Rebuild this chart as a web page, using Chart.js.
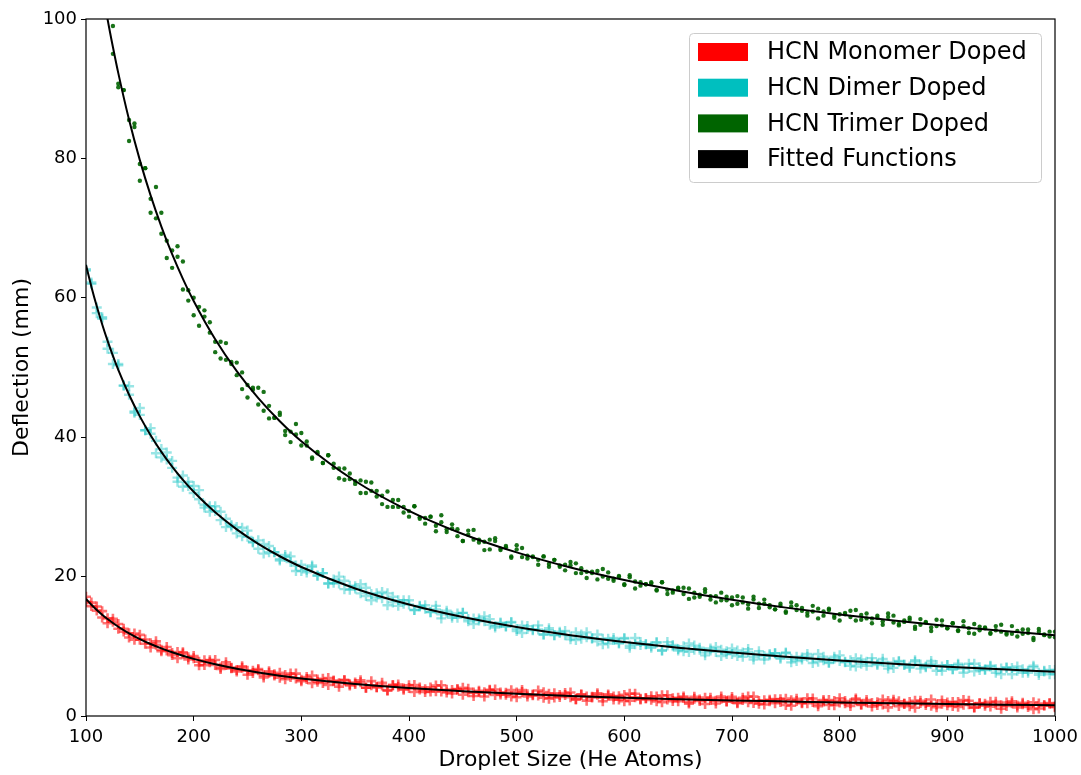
<!DOCTYPE html>
<html>
<head>
<meta charset="utf-8">
<title>Deflection vs droplet size</title>
<script src="https://cdn.jsdelivr.net/npm/chart.js@4.4.0/dist/chart.umd.min.js"></script>
<style>
  html, body { margin: 0; padding: 0; background: #fff; }
  canvas { display: block; }
</style>
</head>
<body>
<canvas id="deflection" width="1081" height="775"></canvas>
<script>
// droplet sizes (He atoms) for the measured points
const sizes = [
  100,105,110,115,120,125,130,135,140,145,
  150,155,160,165,170,175,180,185,190,195,
  200,205,210,215,220,225,230,235,240,245,
  250,255,260,265,270,275,280,285,290,295,
  300,305,310,315,320,325,330,335,340,345,
  350,355,360,365,370,375,380,385,390,395,
  400,405,410,415,420,425,430,435,440,445,
  450,455,460,465,470,475,480,485,490,495,
  500,505,510,515,520,525,530,535,540,545,
  550,555,560,565,570,575,580,585,590,595,
  600,605,610,615,620,625,630,635,640,645,
  650,655,660,665,670,675,680,685,690,695,
  700,705,710,715,720,725,730,735,740,745,
  750,755,760,765,770,775,780,785,790,795,
  800,805,810,815,820,825,830,835,840,845,
  850,855,860,865,870,875,880,885,890,895,
  900,905,910,915,920,925,930,935,940,945,
  950,955,960,965,970,975,980,985,990,995,
  1000
];

// deflection (mm), two shots per droplet size
const monomerA = [
  17.10,15.77,15.72,14.14,14.01,13.94,12.51,12.51,11.26,11.83,
  10.94,10.97,9.83,10.71,9.50,9.41,8.74,9.19,9.15,8.12,
  8.30,7.29,8.00,8.01,7.33,6.76,7.70,6.94,6.59,6.94,
  5.91,6.48,6.75,5.83,6.21,5.80,6.19,5.28,5.58,6.08,
  5.19,5.60,4.71,5.23,4.74,5.46,5.08,4.21,5.14,4.57,
  4.60,4.83,4.06,5.00,4.14,4.38,3.72,4.36,4.51,3.76,
  4.00,4.45,3.80,3.45,4.10,3.56,4.41,3.37,3.73,3.78,
  3.04,3.90,3.36,3.43,2.79,3.65,3.81,3.08,3.34,2.81,
  3.38,3.74,2.81,3.08,2.95,3.42,2.49,3.26,2.73,3.01,
  3.38,2.45,3.03,2.20,2.77,3.05,2.62,3.10,2.38,2.85,
  2.13,3.21,2.69,2.36,2.54,2.82,2.10,2.98,2.36,2.14,
  2.62,2.80,1.78,2.46,2.15,2.63,2.31,1.79,2.78,2.16,
  2.44,1.93,2.61,1.99,2.78,1.76,2.25,2.13,1.82,2.40,
  1.59,2.27,2.46,1.94,1.83,2.52,1.40,2.09,2.28,1.56,
  1.95,2.14,1.83,2.51,1.60,2.29,1.38,1.97,1.66,2.14,
  2.33,1.42,1.81,2.00,1.19,2.18,1.87,1.46,1.65,2.24,
  1.53,2.02,1.31,2.30,1.69,1.18,1.87,1.76,1.35,2.04,
  1.53,1.43,2.12,1.21,1.90,1.59,0.98,1.78,1.47,1.86,
  1.35
];
const monomerB = [
  16.40,16.27,15.12,15.04,13.31,13.54,13.21,12.11,11.86,10.93,
  11.64,10.37,10.43,10.21,9.30,9.91,9.04,8.29,8.95,8.42,
  8.60,7.79,7.30,7.71,8.03,6.96,7.30,6.84,6.39,7.14,
  6.51,6.18,6.55,5.53,6.41,6.00,5.49,5.88,6.08,5.38,
  4.99,5.30,5.81,4.93,5.34,4.46,4.98,4.71,5.14,4.37,
  4.80,5.13,4.06,4.40,4.14,4.78,3.62,4.46,4.21,3.96,
  4.40,3.45,4.10,3.85,3.50,4.36,3.51,3.77,3.23,3.88,
  4.04,3.40,2.86,3.63,3.39,3.75,3.01,3.38,3.04,3.71,
  2.68,3.44,3.11,2.98,3.65,2.62,3.19,2.66,3.03,3.31,
  2.68,2.35,3.13,2.80,2.67,3.25,2.12,2.90,2.78,2.35,
  3.03,2.21,3.19,2.46,2.54,2.32,2.80,1.98,2.96,2.54,
  2.12,2.60,1.98,2.76,2.35,1.73,2.61,2.19,2.48,2.06,
  2.74,1.83,2.31,2.79,1.88,2.16,1.65,2.33,2.42,2.00,
  2.49,1.47,2.16,1.84,2.53,2.02,1.70,2.29,1.58,2.16,
  2.55,1.84,1.43,2.31,1.70,1.99,1.88,1.57,2.36,1.24,
  2.03,2.12,1.71,1.40,2.19,1.88,1.57,2.36,1.25,1.74,
  1.93,1.42,2.01,1.60,2.19,1.28,1.77,1.46,2.05,1.64,
  1.03,1.93,1.82,1.51,1.70,1.29,1.98,1.08,1.57,1.76,
  1.25
];
const dimerA = [
  63.9,62.2,58.6,57.2,52.7,52.1,50.5,47.4,46.1,43.5,
  44.2,41.0,40.5,39.5,37.1,37.8,35.6,33.6,34.5,33.0,
  33.0,31.1,29.9,30.1,30.1,28.1,28.3,27.2,26.2,27.0,
  25.7,24.9,25.2,23.3,24.4,23.5,22.5,22.8,22.9,21.6,
  20.8,21.0,21.6,20.1,20.5,19.0,19.6,19.0,19.4,18.1,
  18.6,18.9,17.2,17.5,17.0,17.8,15.9,17.1,16.6,16.1,
  16.6,15.2,15.8,15.4,14.9,15.8,14.6,14.8,14.1,14.7,
  14.8,13.9,13.2,14.0,13.6,13.9,12.9,13.3,12.8,13.5,
  12.2,13.0,12.5,12.3,13.0,11.7,12.3,11.6,11.9,12.2,
  11.4,10.9,11.7,11.3,11.1,11.7,10.3,11.1,10.9,10.4,
  11.1,10.1,11.2,10.2,10.3,10.0,10.5,9.4,10.6,10.0,
  9.4,10.0,9.2,10.1,9.5,8.7,9.7,9.2,9.5,8.9,
  9.7,8.6,9.1,9.6,8.5,8.8,8.1,8.9,9.0,8.4,
  9.0,7.7,8.5,8.1,8.9,8.2,7.8,8.5,7.6,8.2,
  8.7,7.8,7.2,8.3,7.5,7.8,7.7,7.3,8.2,6.8,
  7.7,7.8,7.3,6.9,7.8,7.4,7.0,7.9,6.5,7.1,
  7.3,6.7,7.3,6.8,7.5,6.4,7.0,6.6,7.2,6.7,
  6.0,7.0,6.9,6.5,6.7,6.2,7.0,5.9,6.4,6.6,
  6.0
];
const dimerB = [
  64.1,62.0,57.8,57.0,53.7,50.5,50.3,47.4,47.3,43.7,
  43.2,41.0,41.3,37.7,38.3,36.8,36.6,34.2,32.9,33.6,
  32.0,32.4,30.3,29.3,29.4,29.3,27.1,27.4,27.1,25.8,
  26.6,25.0,24.0,24.7,23.5,23.5,22.3,23.1,22.1,20.8,
  21.7,20.6,21.4,20.2,20.5,19.0,19.1,20.0,18.2,18.7,
  18.3,17.6,18.4,16.6,17.6,16.9,17.6,16.3,15.8,16.6,
  16.0,15.2,15.7,15.9,14.9,15.3,14.0,15.1,14.4,14.1,
  14.8,13.6,14.0,13.7,14.3,13.1,12.7,13.4,12.9,13.4,
  12.5,11.9,12.9,12.4,12.4,11.7,12.6,11.6,12.1,11.6,
  11.0,12.0,11.1,12.0,11.2,10.7,11.1,10.4,11.2,10.5,
  11.2,9.8,10.3,10.6,10.3,9.8,10.6,9.4,10.1,10.2,
  9.6,9.3,10.4,9.5,9.8,9.1,9.4,9.9,8.6,9.3,
  8.9,9.4,8.5,9.2,8.1,9.3,8.6,8.7,9.0,8.2,
  9.1,8.2,7.9,8.4,8.5,7.6,8.9,8.0,7.7,8.5,
  7.9,7.7,8.0,7.1,8.1,7.2,8.3,7.5,7.8,7.2,
  6.9,7.9,7.4,7.1,8.0,6.8,7.1,7.5,7.3,6.5,
  7.3,6.7,7.5,6.2,6.9,7.5,6.6,6.7,7.1,6.2,
  6.8,6.9,6.0,7.1,6.2,6.5,7.2,6.2,6.5,6.0,
  6.6
];
const trimerA = [
  null,null,null,null,103.0,95.0,90.2,89.8,85.5,85.0,
  76.8,78.6,74.2,71.4,72.2,65.7,66.8,67.4,61.2,61.1,
  57.5,58.7,58.2,55.0,52.2,53.7,51.1,50.8,50.7,46.9,
  47.5,47.1,44.7,46.5,42.7,42.8,43.2,40.9,39.3,40.4,
  40.6,38.8,36.9,37.9,36.3,37.4,35.6,35.5,33.9,34.8,
  33.3,32.0,33.6,32.3,32.3,30.4,32.2,30.0,30.0,30.0,
  28.6,30.1,28.3,28.4,28.6,26.5,27.8,26.8,27.5,25.8,
  25.1,26.0,26.7,24.9,25.0,23.9,25.1,24.0,24.4,22.7,
  24.5,22.8,23.0,22.9,21.7,22.9,21.8,22.4,21.6,20.9,
  21.6,21.9,20.5,20.7,20.7,19.6,21.1,19.7,19.7,20.1,
  18.9,19.9,18.3,19.2,18.9,19.0,18.1,19.2,17.5,18.0,
  18.4,17.5,18.3,17.0,17.4,18.2,16.7,17.2,16.6,17.1,
  15.9,17.2,16.3,15.4,16.7,16.1,16.7,15.6,15.3,15.8,
  15.0,16.3,15.2,15.5,14.4,15.0,15.4,14.4,15.4,14.4,
  13.7,14.6,15.1,13.7,14.5,14.0,14.0,14.4,13.1,14.7,
  13.4,13.2,13.7,14.1,12.8,13.1,13.5,12.2,13.8,13.0,
  12.6,13.3,12.3,12.9,11.9,13.2,12.3,12.7,11.8,12.3,
  13.1,11.7,11.8,12.2,11.8,12.4,11.2,12.5,11.7,11.4,
  12.1
];
const trimerB = [
  null,null,null,null,100.5,99.0,90.7,89.8,82.5,84.5,
  79.2,78.6,72.2,75.9,69.2,68.2,64.3,65.9,65.2,59.6,
  60.0,56.0,57.3,56.5,53.7,51.3,53.5,50.5,48.9,49.3,
  45.7,46.8,47.1,43.8,44.5,42.8,43.5,40.3,40.8,41.9,
  38.8,39.4,37.1,37.7,36.3,37.4,36.2,34.1,35.5,34.0,
  33.7,33.8,32.0,33.5,31.5,31.6,30.0,31.0,31.0,29.2,
  29.4,30.1,28.5,27.6,28.6,27.3,28.8,26.4,26.9,26.8,
  25.1,26.6,25.3,25.3,23.8,25.3,25.5,23.8,24.2,22.9,
  23.9,24.1,22.6,22.8,22.4,22.9,21.4,22.4,21.4,21.7,
  22.1,20.5,21.2,19.8,20.5,20.8,20.0,20.6,19.4,20.0,
  18.8,20.2,19.3,18.7,18.9,19.2,18.0,19.2,18.1,17.7,
  18.3,18.4,16.8,17.7,17.1,17.8,17.2,16.3,17.7,16.6,
  17.0,16.1,17.0,16.0,17.1,15.5,16.1,15.9,15.3,16.1,
  14.8,15.7,15.9,15.1,14.8,15.8,14.0,15.0,15.2,14.1,
  14.6,14.8,14.2,15.2,13.8,14.7,13.3,14.1,13.6,14.2,
  14.4,13.0,13.5,13.8,12.5,13.9,13.4,12.7,12.9,13.7,
  12.6,13.3,12.2,13.6,12.6,11.8,12.8,12.6,11.9,12.9,
  12.1,11.9,12.9,11.4,12.4,11.9,10.9,12.1,11.6,12.1,
  11.3
];

// fitted curves, sampled
const fitSizes = [100,105,110,115,120,125,130,140,150,160,170,180,190,200,220,240,260,280,300,
                  350,400,450,500,550,600,650,700,750,800,850,900,950,1000];
const monomerFit = [16.80,15.97,15.22,14.54,13.91,13.34,12.81,11.86,11.04,10.33,9.70,9.14,8.65,8.20,7.43,6.79,6.25,5.79,5.39,
                    4.60,4.00,3.54,3.18,2.88,2.63,2.42,2.24,2.09,1.95,1.83,1.73,1.63,1.55];
const dimerFit = [64.70,61.60,58.78,56.21,53.85,51.67,49.67,46.09,42.99,40.29,37.90,35.78,33.88,32.17,29.23,26.78,24.70,22.92,21.38,
                  18.30,16.00,14.20,12.77,11.60,10.63,9.80,9.10,8.49,7.95,7.48,7.06,6.69,6.35];
const trimerFit = [120.4,114.6,109.3,104.5,100.0,95.98,92.23,85.54,79.75,74.69,70.22,66.26,62.72,59.54,54.04,49.47,45.61,42.30,39.43,
                   33.72,29.44,26.12,23.47,21.30,19.50,17.98,16.67,15.55,14.56,13.69,12.92,12.22,11.60];

const seriesNames = ['HCN Monomer Doped', 'HCN Dimer Doped', 'HCN Trimer Doped', 'Fitted Functions'];
const seriesColors = ['#ff0000', '#00bfbf', '#006400', '#000000'];

function shots(...runs) {
  const out = [];
  runs.forEach(ys => ys.forEach((y, i) => { if (y !== null) out.push({ x: sizes[i], y }); }));
  return out;
}
function curve(ys) {
  return ys.map((y, i) => ({ x: fitSizes[i], y }));
}

const fitStyle = {
  showLine: true,
  borderColor: '#000',
  borderWidth: 2,
  pointRadius: 0,
  cubicInterpolationMode: 'monotone',
  order: 0
};

// axes box (all four sides)
const frame = {
  id: 'frame',
  afterDatasetsDraw(chart) {
    const { ctx, chartArea: a } = chart;
    ctx.save();
    ctx.strokeStyle = '#000';
    ctx.lineWidth = 1.2;
    ctx.strokeRect(a.left, a.top, a.right - a.left, a.bottom - a.top);
    ctx.restore();
  }
};

// legend box in the upper right corner
const boxLegend = {
  id: 'boxLegend',
  afterDraw(chart) {
    const ctx = chart.ctx;
    const x0 = 689, y0 = 33, w = 352, h = 149;
    ctx.save();
    ctx.fillStyle = 'rgba(255,255,255,0.85)';
    ctx.strokeStyle = '#cccccc';
    ctx.lineWidth = 1;
    ctx.beginPath();
    ctx.roundRect(x0 + 0.5, y0 + 0.5, w, h, 4);
    ctx.fill();
    ctx.stroke();
    ctx.font = '24px "DejaVu Sans"';
    ctx.textBaseline = 'middle';
    seriesNames.forEach((name, i) => {
      const cy = 52 + i * 35.7;
      ctx.fillStyle = seriesColors[i];
      ctx.fillRect(698, cy - 9, 50, 18);
      ctx.fillStyle = '#000';
      ctx.fillText(name, 767, cy + 1);
    });
    ctx.restore();
  }
};

Chart.defaults.font.family = '"DejaVu Sans", sans-serif';
Chart.defaults.color = '#000';

new Chart(document.getElementById('deflection'), {
  type: 'scatter',
  data: {
    datasets: [
      { label: 'Monomer fit', data: curve(monomerFit), ...fitStyle },
      { label: 'Dimer fit', data: curve(dimerFit), ...fitStyle },
      { label: 'Trimer fit', data: curve(trimerFit), ...fitStyle },
      {
        label: seriesNames[0],
        data: shots(monomerA, monomerB),
        pointStyle: 'cross',
        pointRadius: 5,
        borderWidth: 2.6,
        borderColor: 'rgba(255,0,0,0.55)',
        backgroundColor: 'rgba(255,0,0,0.55)',
        order: 1
      },
      {
        label: seriesNames[1],
        data: shots(dimerA, dimerB),
        pointStyle: 'cross',
        pointRadius: 5,
        borderWidth: 2.4,
        borderColor: 'rgba(0,191,191,0.4)',
        backgroundColor: 'rgba(0,191,191,0.4)',
        order: 1
      },
      {
        label: seriesNames[2],
        data: shots(trimerA, trimerB),
        pointStyle: 'circle',
        pointRadius: 2.2,
        borderWidth: 0,
        backgroundColor: 'rgba(0,100,0,0.9)',
        order: 1
      }
    ]
  },
  options: {
    responsive: false,
    animation: false,
    devicePixelRatio: 1,
    layout: { padding: { left: 0, right: 26, top: 19, bottom: 0 } },
    plugins: {
      legend: { display: false },
      tooltip: { enabled: false }
    },
    scales: {
      x: {
        type: 'linear',
        min: 100,
        max: 1000,
        ticks: { stepSize: 100, font: { size: 18 }, padding: 6, color: '#000', callback: v => String(v) },
        grid: { drawOnChartArea: false, drawTicks: true, tickLength: 5, tickColor: '#000' },
        border: { display: false },
        title: {
          display: true,
          text: 'Droplet Size (He Atoms)',
          font: { size: 22 },
          color: '#000',
          padding: { top: 0, bottom: 2 }
        },
        afterFit(scale) {
          scale.height = 59;
          // keep the end labels from pushing the plot edges inward
          scale.paddingLeft = 0;
          scale.paddingRight = 0;
        }
      },
      y: {
        min: 0,
        max: 100,
        ticks: { stepSize: 20, font: { size: 18 }, padding: 4, color: '#000', callback: v => String(v) },
        grid: { drawOnChartArea: false, drawTicks: true, tickLength: 5, tickColor: '#000' },
        border: { display: false },
        title: {
          display: true,
          text: 'Deflection (mm)',
          font: { size: 22 },
          color: '#000',
          padding: { top: 9, bottom: 0 }
        },
        afterFit(scale) {
          scale.width = 86;
          scale.paddingTop = 0;
          scale.paddingBottom = 0;
        }
      }
    }
  },
  plugins: [frame, boxLegend]
});
</script>
</body>
</html>
